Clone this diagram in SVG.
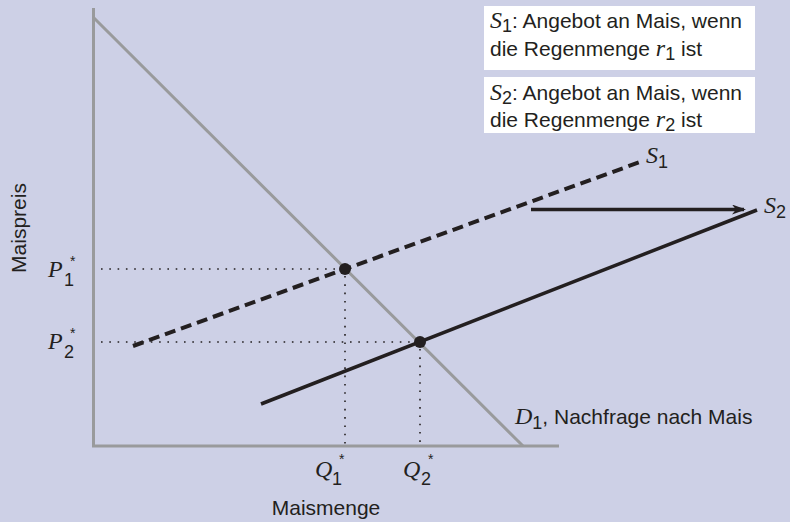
<svg xmlns="http://www.w3.org/2000/svg" width="790" height="522" viewBox="0 0 790 522">
<defs>
<style>
.t{font-family:"Liberation Sans",Arial,sans-serif;font-size:21px;fill:#231f20}
.i{font-family:"Liberation Serif","Times New Roman",serif;font-style:italic;font-size:24px;fill:#231f20}
.sub{font-family:"Liberation Sans",Arial,sans-serif;font-size:18px;fill:#231f20}
.star{font-family:"Liberation Sans",Arial,sans-serif;font-size:14px;fill:#231f20}
.grey{stroke:#999a9c;stroke-width:3;fill:none}
.dot{stroke:#231f20;stroke-width:1.6;fill:none;stroke-dasharray:1.6 6.7}
.box{fill:#ffffff}
</style>
<marker id="arr" markerWidth="14" markerHeight="10" refX="12" refY="5" orient="auto" markerUnits="userSpaceOnUse">
<path d="M0,0 L14,5 L0,10 L4,5 Z" fill="#231f20"/>
</marker>
</defs>
<rect width="790" height="522" fill="#cdd0e6"/>
<g id="axes">
<path class="grey" d="M93.5,8 V446 H559"/>
</g>
<g id="connectors">
<path class="grey" d="M93,17 L523,446"/>
<path class="dot" d="M101,269 H345 M345,276 V446"/>
<path class="dot" d="M101,342 H420 M420,349 V446"/>
<path d="M133,346 L640,162" stroke="#231f20" stroke-width="4" fill="none" stroke-dasharray="11 6"/>
<path d="M261,404 L757,210" stroke="#231f20" stroke-width="3.5" fill="none"/>
<path d="M531,209.5 H744" stroke="#231f20" stroke-width="3.5" fill="none" marker-end="url(#arr)"/>
</g>
<g id="eq1"><circle cx="345" cy="269" r="6" fill="#231f20"/></g>
<g id="eq2"><circle cx="420" cy="342" r="6" fill="#231f20"/></g>
<g id="legend1">
<rect class="box" x="484" y="6" width="271" height="64"/>
<text x="490" y="28"><tspan class="i">S</tspan><tspan class="sub" dy="4">1</tspan><tspan class="t" dy="-4">: Angebot an Mais, wenn</tspan></text>
<text x="490" y="56"><tspan class="t">die Regenmenge </tspan><tspan class="i">r</tspan><tspan class="sub" dy="4">1</tspan><tspan class="t" dy="-4"> ist</tspan></text>
</g>
<g id="legend2">
<rect class="box" x="484" y="77" width="271" height="56"/>
<text x="490" y="100"><tspan class="i">S</tspan><tspan class="sub" dy="4">2</tspan><tspan class="t" dy="-4">: Angebot an Mais, wenn</tspan></text>
<text x="490" y="127"><tspan class="t">die Regenmenge </tspan><tspan class="i">r</tspan><tspan class="sub" dy="4">2</tspan><tspan class="t" dy="-4"> ist</tspan></text>
</g>
<g id="labelS1"><text x="646" y="163"><tspan class="i">S</tspan><tspan class="sub" dy="5">1</tspan></text></g>
<g id="labelS2"><text x="764" y="213"><tspan class="i">S</tspan><tspan class="sub" dy="5">2</tspan></text></g>
<g id="labelD1"><text x="515" y="424"><tspan class="i">D</tspan><tspan class="sub" dy="5">1</tspan><tspan class="t" dy="-5">, Nachfrage nach Mais</tspan></text></g>
<g id="P1"><text class="i" x="48" y="277">P</text><text class="sub" x="64" y="286">1</text><text class="star" x="70" y="266">*</text></g>
<g id="P2"><text class="i" x="48" y="349">P</text><text class="sub" x="64" y="358">2</text><text class="star" x="70" y="338">*</text></g>
<g id="Q1"><text class="i" x="315" y="477">Q</text><text class="sub" x="332" y="485">1</text><text class="star" x="339" y="464">*</text></g>
<g id="Q2"><text class="i" x="403" y="477">Q</text><text class="sub" x="421" y="485">2</text><text class="star" x="428" y="464">*</text></g>
<text class="t" x="326" y="515" text-anchor="middle">Maismenge</text>
<text class="t" transform="translate(26,228) rotate(-90)" text-anchor="middle">Maispreis</text>
</svg>
